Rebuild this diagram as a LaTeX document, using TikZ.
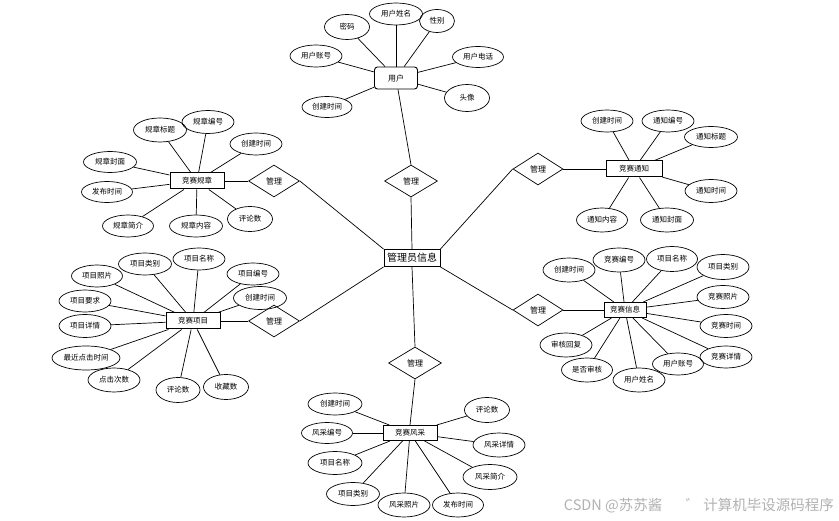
\documentclass[tikz,border=0pt]{standalone}
\usepackage{fontspec}
\setmainfont{Noto Sans CJK SC}
\usetikzlibrary{shapes.geometric}
\begin{document}
\begin{tikzpicture}[x=1pt,y=-1pt,
  attr/.style={ellipse,draw,line width=0.7pt,minimum width=52pt,minimum height=23pt,inner sep=0pt,font=\fontsize{7.5}{8}\selectfont},
  sattr/.style={attr,minimum width=45pt,minimum height=25pt},
  ent/.style={rectangle,draw,line width=1pt,minimum width=54pt,minimum height=16pt,inner sep=0pt,font=\fontsize{7.5}{9}\selectfont},
  rel/.style={diamond,draw,line width=0.7pt,minimum width=51pt,minimum height=32pt,inner sep=0pt,font=\fontsize{8}{9}\selectfont},
  conn/.style={line width=0.7pt}]
\useasboundingbox[fill=white] (0,0) rectangle (839,521);

% central entity
\node[ent,minimum width=56pt,minimum height=17pt,font=\fontsize{10}{11}\selectfont,line width=0.9pt] (admin) at (412,258) {管理员信息};

% ===== user =====
\node[draw,rounded corners=3pt,line width=0.9pt,minimum width=43pt,minimum height=22pt,inner sep=0pt,font=\fontsize{8}{9}\selectfont] (user) at (396,78) {用户};
\node[sattr] (u1) at (347,27) {密码};
\node[attr,minimum width=53pt,minimum height=22pt] (u2) at (396,14) {用户姓名};
\node[attr,minimum width=35pt,minimum height=23pt] (u3) at (437,21) {性别};
\node[attr,minimum height=22pt] (u4) at (316,56) {用户账号};
\node[attr,minimum width=51pt,minimum height=21pt] (u5) at (478,57) {用户电话};
\node[attr,minimum width=50pt,minimum height=21pt] (u6) at (327,107) {创建时间};
\node[sattr,minimum height=27pt] (u7) at (467,98) {头像};
\foreach \a in {u1,u2,u3,u4,u5,u6,u7} \draw[conn] (\a) -- (user);
\node[rel,minimum width=53pt] (r0) at (411,181) {管理};
\draw[conn] (user) -- (r0.north);
\draw[conn] (r0.south) -- (admin.north);

% ===== 竞赛规章 =====
\node[ent] (gz) at (197,181) {竞赛规章};
\node[attr,minimum width=53pt,minimum height=24pt] (g1) at (160,130) {规章标题};
\node[attr] (g2) at (208,122) {规章编号};
\node[attr,minimum height=22pt] (g3) at (256,144) {创建时间};
\node[attr,minimum width=53pt,minimum height=21pt] (g4) at (110,162) {规章封面};
\node[attr,minimum width=51pt,minimum height=21pt] (g5) at (107,192) {发布时间};
\node[attr,minimum width=51pt,minimum height=22pt] (g6) at (128,226) {规章简介};
\node[attr,minimum width=53pt,minimum height=22pt] (g7) at (196,226) {规章内容};
\node[sattr] (g8) at (250,219) {评论数};
\foreach \a in {g1,g2,g3,g4,g5,g6,g7,g8} \draw[conn] (\a) -- (gz);
\node[rel] (r1) at (274,181) {管理};
\draw[conn] (gz) -- (r1);
\draw[conn] (r1.east) -- (admin.north west);

% ===== 竞赛通知 =====
\node[ent,minimum width=56pt] (tz) at (634,169) {竞赛通知};
\node[attr,minimum height=22pt] (t1) at (607,121) {创建时间};
\node[attr,minimum height=22pt] (t2) at (668,121) {通知编号};
\node[attr,minimum width=53pt,minimum height=21pt] (t3) at (711,137) {通知标题};
\node[attr] (t4) at (711,191) {通知时间};
\node[attr,minimum width=51pt,minimum height=24pt] (t5) at (602,220) {通知内容};
\node[attr,minimum width=53pt,minimum height=24pt] (t6) at (667,220) {通知封面};
\foreach \a in {t1,t2,t3,t4,t5,t6} \draw[conn] (\a) -- (tz);
\node[rel,minimum width=50pt] (r2) at (538,169) {管理};
\draw[conn] (tz) -- (r2);
\draw[conn] (r2.west) -- (admin.north east);

% ===== 竞赛项目 =====
\node[ent] (xm) at (193,321) {竞赛项目};
\node[attr,minimum width=53pt,minimum height=22pt] (x1) at (145,264) {项目类别};
\node[attr,minimum height=22pt] (x2) at (199,259) {项目名称};
\node[attr,minimum height=22pt] (x3) at (253,274) {项目编号};
\node[attr,minimum width=53pt] (x4) at (260,298) {创建时间};
\node[attr,minimum width=51pt,minimum height=22pt] (x5) at (97,276) {项目照片};
\node[attr,minimum height=22pt] (x6) at (85,301) {项目要求};
\node[attr] (x7) at (85,326) {项目详情};
\node[attr,minimum width=68pt,minimum height=24pt] (x8) at (86,358) {最近点击时间};
\node[attr,minimum height=24pt] (x9) at (114,380) {点击次数};
\node[sattr,minimum width=44pt] (x10) at (178,390) {评论数};
\node[sattr] (x11) at (226,387) {收藏数};
\foreach \a in {x1,x2,x3,x4,x5,x6,x7,x8,x9,x10,x11} \draw[conn] (\a) -- (xm);
\node[rel] (r3) at (274,321) {管理};
\draw[conn] (xm) -- (r3);
\draw[conn] (r3.east) -- (admin.south west);

% ===== 竞赛信息 =====
\node[ent,minimum width=42pt,minimum height=15pt] (xx) at (625,310) {竞赛信息};
\node[attr,minimum height=24pt] (y1) at (569,270) {创建时间};
\node[attr,minimum height=24pt] (y2) at (619,260) {竞赛编号};
\node[attr,minimum width=51pt,minimum height=25pt] (y3) at (672,259) {项目名称};
\node[attr,minimum height=25pt] (y4) at (723,267) {项目类别};
\node[attr] (y5) at (723,297) {竞赛照片};
\node[attr] (y6) at (726,326) {竞赛时间};
\node[attr,minimum height=22pt] (y7) at (726,357) {竞赛详情};
\node[attr,minimum height=24pt] (y8) at (566,345) {审核回复};
\node[attr,minimum width=51pt,minimum height=24pt] (y9) at (587,370) {是否审核};
\node[attr,minimum height=24pt] (y10) at (639,380) {用户姓名};
\node[attr,minimum width=51pt,minimum height=22pt] (y11) at (678,364) {用户账号};
\foreach \a in {y1,y2,y3,y4,y5,y6,y7,y8,y9,y10,y11} \draw[conn] (\a) -- (xx);
\node[rel,minimum width=50pt] (r4) at (538,310) {管理};
\draw[conn] (xx) -- (r4);
\draw[conn] (r4.west) -- (admin.south east);

% ===== 竞赛风采 =====
\node[ent,minimum height=15pt] (fc) at (410,433) {竞赛风采};
\node[attr,minimum width=54pt,minimum height=22pt] (f1) at (335,404) {创建时间};
\node[attr,minimum width=51pt,minimum height=21pt] (f2) at (327,433) {风采编号};
\node[attr,minimum width=54pt] (f3) at (335,463) {项目名称};
\node[attr,minimum width=53pt] (f4) at (353,494) {项目类别};
\node[attr,minimum height=24pt] (f5) at (404,505) {风采照片};
\node[attr,minimum width=51pt,minimum height=24pt] (f6) at (458,505) {发布时间};
\node[attr,minimum width=54pt,minimum height=25pt] (f7) at (490,477) {风采简介};
\node[attr,minimum height=24pt] (f8) at (499,445) {风采详情};
\node[sattr] (f9) at (487,410) {评论数};
\foreach \a in {f1,f2,f3,f4,f5,f6,f7,f8,f9} \draw[conn] (\a) -- (fc);
\node[rel,minimum width=53pt] (r5) at (415,363) {管理};
\draw[conn] (admin.south) -- (r5.north);
\draw[conn] (r5.south) -- (fc.north);

% watermark
\node[anchor=east,inner sep=0pt,text=black!30,font=\fontsize{14.5}{15}\selectfont] (wm) at (834,506) {CSDN @苏苏酱\hspace{1.6em}゛ 计算机毕设源码程序};
\end{tikzpicture}
\end{document}
